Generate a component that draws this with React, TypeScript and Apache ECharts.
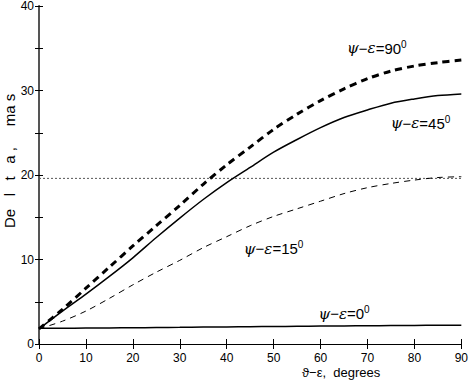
import React, { useEffect, useRef } from "react";
import * as echarts from "echarts";

const XS = [0, 5, 10, 15, 20, 25, 30, 35, 40, 45, 50, 55, 60, 65, 70, 75, 80, 85, 90];
const D90 = [1.8, 4.1, 6.6, 9.1, 11.6, 14.0, 16.4, 18.9, 21.2, 23.3, 25.4, 27.2, 28.8, 30.2, 31.4, 32.3, 32.9, 33.3, 33.6];
const D45 = [1.8, 3.9, 5.9, 8.0, 10.2, 12.6, 14.9, 17.1, 19.1, 20.9, 22.7, 24.2, 25.6, 26.8, 27.7, 28.5, 29.0, 29.4, 29.6];
const D15 = [1.8, 2.7, 3.9, 5.4, 7.0, 8.5, 9.9, 11.4, 12.7, 14.0, 15.1, 16.0, 16.9, 17.8, 18.5, 19.0, 19.4, 19.7, 19.8];
const D0 = [1.85, 1.86, 1.88, 1.9, 1.92, 1.95, 1.97, 2.0, 2.02, 2.05, 2.07, 2.1, 2.12, 2.14, 2.16, 2.18, 2.2, 2.21, 2.22];
const REF_LEVEL = 19.6;

const LABELS = [
  { angle: "90", x: 72, y: 35.0 },
  { angle: "45", x: 81.3, y: 26.1 },
  { angle: "15", x: 50.0, y: 11.3 },
  { angle: "0", x: 65.0, y: 3.6 },
];

const X_MIN = 0;
const X_MAX = 90;
const Y_MIN = 0;
const Y_MAX = 40;

const SANS = "'Liberation Sans', Arial, sans-serif";

export default function App() {
  const ref = useRef<HTMLDivElement>(null);
  useEffect(() => {
    if (!ref.current) return;
    const chart = echarts.init(ref.current, null, { renderer: "svg" });
    const pts = (ys: number[]) => XS.map((x, i) => [x, ys[i]]);
    const axisLine = { show: true, lineStyle: { color: "#000", width: 1 } };
    const labelRich = {
      g: { fontFamily: "'DejaVu Serif', serif", fontStyle: "italic", fontSize: 15, color: "#000" },
      n: { fontFamily: SANS, fontSize: 15, color: "#000" },
      s: { fontFamily: SANS, fontSize: 10, color: "#000", verticalAlign: "top", padding: [0, 0, 8, 0] },
    };
    chart.setOption({
      animation: false,
      backgroundColor: "#fff",
      grid: { left: 39, right: 7.5, top: 5, bottom: 37, containLabel: false },
      xAxis: [
        {
          type: "value",
          min: X_MIN,
          max: X_MAX,
          interval: 10,
          position: "bottom",
          axisLine,
          axisTick: { show: true, inside: true, length: 5, lineStyle: { color: "#000" } },
          splitLine: { show: false },
          axisLabel: { color: "#000", fontFamily: SANS, fontSize: 12, margin: 8 },
        },
        {
          type: "value",
          min: X_MIN,
          max: X_MAX,
          interval: 10,
          position: "top",
          axisLine,
          axisTick: { show: true, inside: true, length: 5, lineStyle: { color: "#000" } },
          splitLine: { show: false },
          axisLabel: { show: false },
        },
      ],
      yAxis: [
        {
          type: "value",
          min: Y_MIN,
          max: Y_MAX,
          interval: 5,
          position: "left",
          axisLine,
          axisTick: { show: true, inside: true, length: 4, lineStyle: { color: "#000" } },
          splitLine: { show: false },
          axisLabel: {
            color: "#000",
            fontFamily: SANS,
            fontSize: 12,
            margin: 5,
            formatter: (v: number) => (v % 10 === 0 ? String(v) : ""),
          },
        },
        {
          type: "value",
          min: Y_MIN,
          max: Y_MAX,
          interval: 5,
          position: "right",
          axisLine: { show: true, lineStyle: { color: "#555", width: 2 } },
          axisTick: { show: true, inside: true, length: 4, lineStyle: { color: "#000" } },
          splitLine: { show: false },
          axisLabel: { show: false },
        },
      ],
      series: [
        {
          type: "line",
          data: [[X_MIN, REF_LEVEL], [X_MAX, REF_LEVEL]],
          symbol: "none",
          lineStyle: { color: "#555", width: 1, type: [2, 2] },
        },
        {
          type: "line",
          data: pts(D90),
          symbol: "none",
          smooth: 0.3,
          lineStyle: { color: "#000", width: 3, type: [7, 5] },
        },
        {
          type: "line",
          data: pts(D45),
          symbol: "none",
          smooth: 0.3,
          lineStyle: { color: "#000", width: 1.5 },
        },
        {
          type: "line",
          data: pts(D15),
          symbol: "none",
          smooth: 0.3,
          lineStyle: { color: "#000", width: 1, type: [6, 5] },
        },
        {
          type: "line",
          data: pts(D0),
          symbol: "none",
          smooth: 0.3,
          lineStyle: { color: "#000", width: 1.5 },
          markPoint: {
            symbol: "circle",
            symbolSize: 0,
            silent: true,
            data: LABELS.map((l) => ({
              coord: [l.x, l.y],
              label: {
                show: true,
                position: "inside",
                formatter: `{g|ψ}{n|−}{g|ε}{n|=${l.angle}}{s|0}`,
                rich: labelRich,
              },
            })),
          },
        },
      ],
      graphic: [
        {
          type: "text",
          x: 302,
          y: 372,
          style: {
            text: "ϑ−ε,  degrees",
            font: `13px ${SANS}`,
            fill: "#000",
            textAlign: "left",
            textVerticalAlign: "middle",
          },
        },
        {
          type: "text",
          x: 2,
          y: 228,
          rotation: Math.PI / 2,
          style: {
            text: "De   l   t   a ,     ma s",
            font: `15px ${SANS}`,
            fill: "#000",
            textAlign: "left",
            textVerticalAlign: "top",
          },
        },
      ],
    });
    return () => chart.dispose();
  }, []);
  return (
    <div
      ref={ref}
      style={{ position: "fixed", left: 0, top: 0, width: 471, height: 381 }}
    />
  );
}
